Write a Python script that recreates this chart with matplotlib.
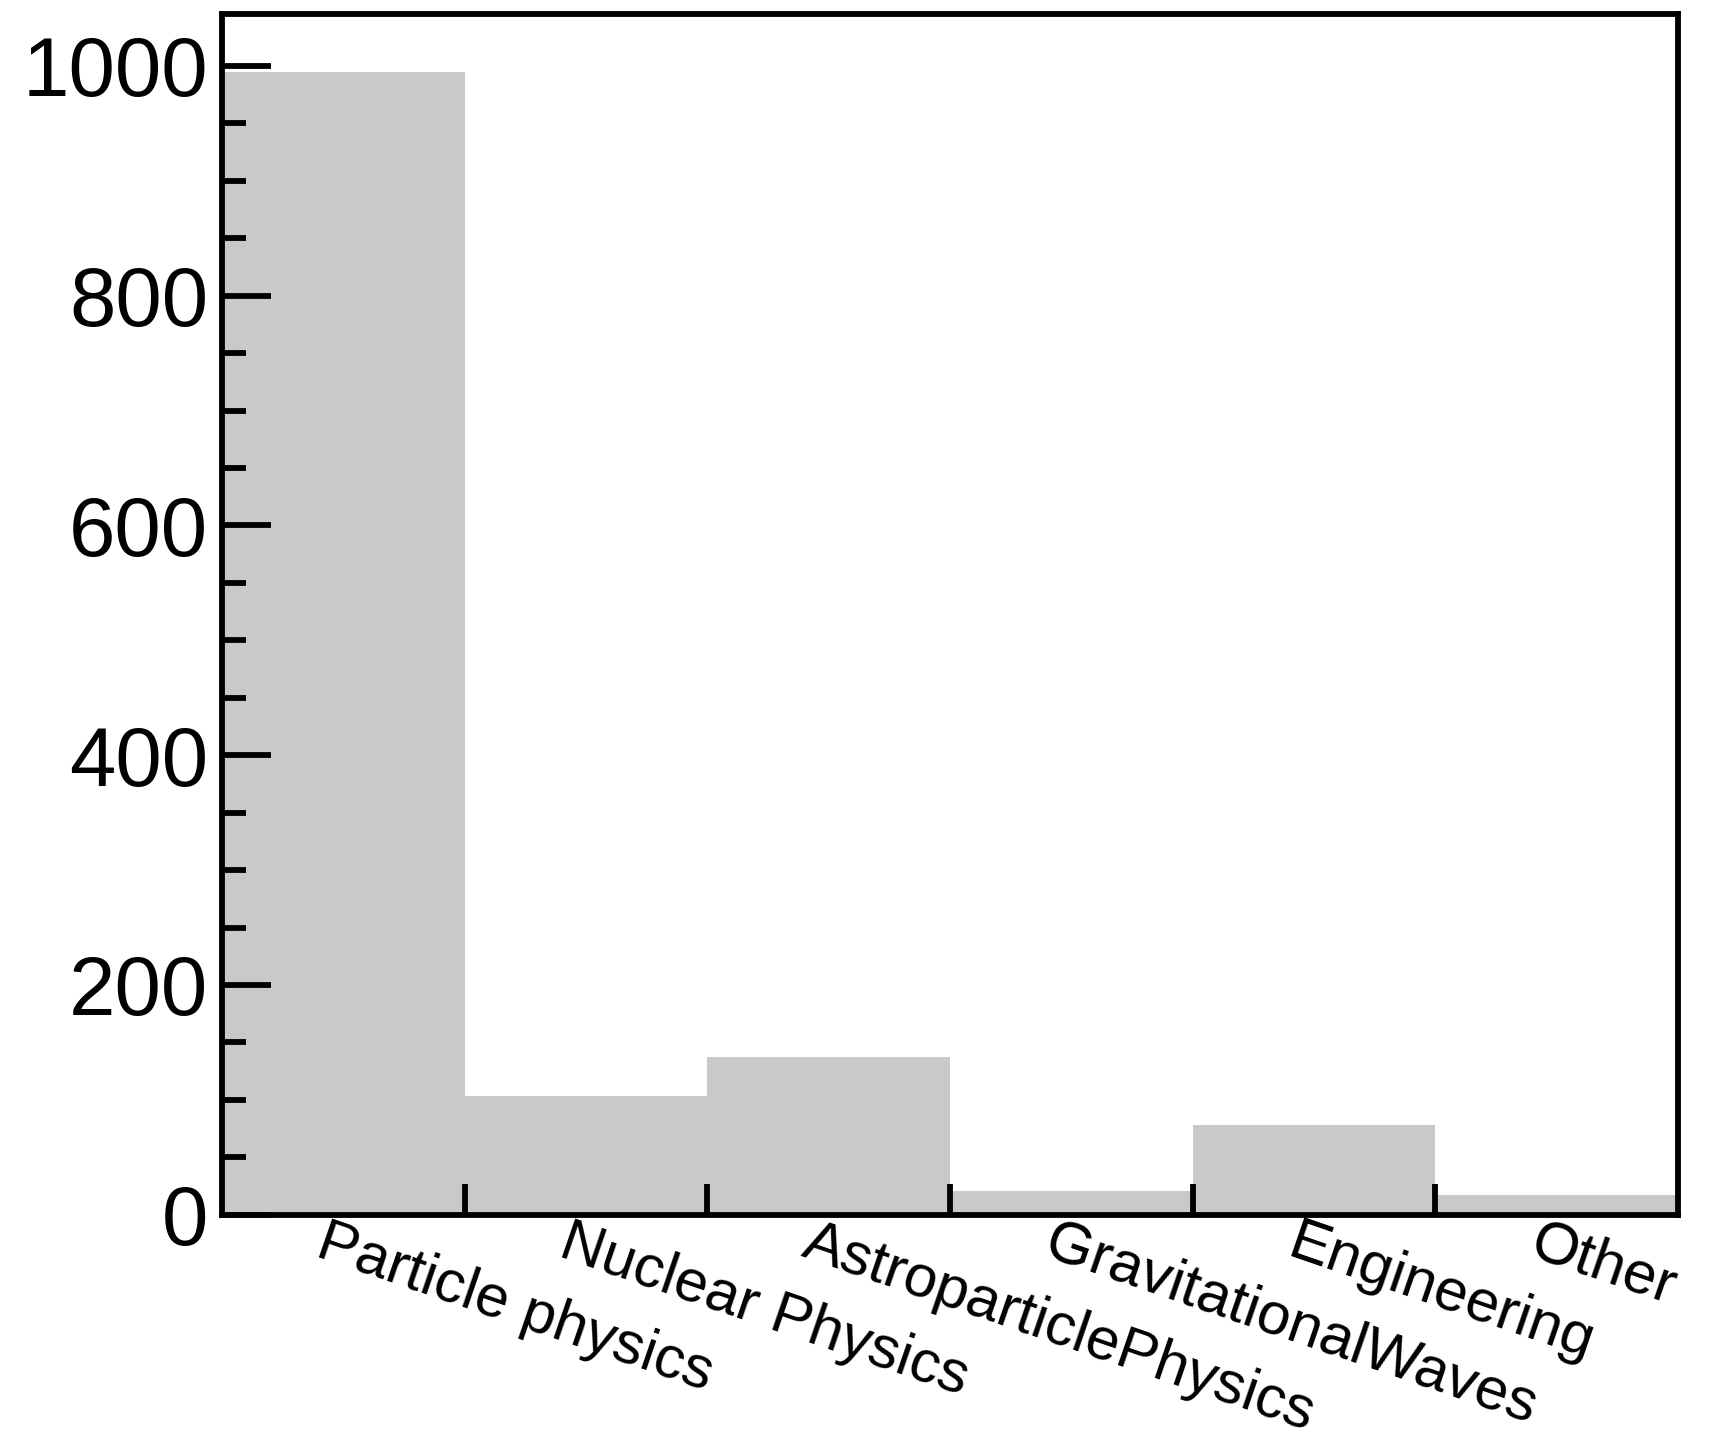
import matplotlib
matplotlib.use('Agg')
from matplotlib import pyplot as plt, transforms
import numpy as np

plt.rcParams['font.family'] = ['Liberation Sans', 'DejaVu Sans']

categories = ['Particle physics', 'Nuclear Physics', 'AstroparticlePhysics',
              'GravitationalWaves', 'Engineering', 'Other']
counts = [995, 103, 137, 21, 78, 17]

fig = plt.figure(figsize=(17.16, 14.41), dpi=100)
ax = fig.add_axes([0.1294, 0.157, 0.9778 - 0.1294, 0.990 - 0.157])

edges = np.arange(len(categories))
ax.bar(edges, counts, width=1.0, align='edge', color='#c9c9c9', linewidth=0)

ax.set_xlim(0, len(categories))
ax.set_ylim(0, 1.05 * max(counts))

for s in ax.spines.values():
    s.set_linewidth(4.2)
    s.set_zorder(5)

# y axis: major every 200, minor every 50, ticks inside, left only
ax.set_yticks(np.arange(0, 1001, 200))
ax.set_yticks(np.arange(0, 1001, 50), minor=True)
ax.tick_params(axis='y', which='major', direction='in', length=35, width=4.2,
               labelsize=60, pad=10, right=False)
ax.tick_params(axis='y', which='minor', direction='in', length=17, width=4.2,
               right=False)

# x axis: ticks at bin edges, labels at bin centres
ax.set_xticks(edges[1:])
ax.set_xticklabels([])
ax.tick_params(axis='x', which='major', direction='in', length=22, width=4.2,
               top=False)
centers = edges + 0.5
ax.set_xticks(centers, minor=True)
ax.set_xticklabels(categories, minor=True, rotation=-19, ha='left',
                   rotation_mode='anchor', fontsize=43)
ax.tick_params(axis='x', which='minor', length=0, pad=0, top=False)
shift = transforms.ScaledTranslation(-0.15, 0, fig.dpi_scale_trans)
for lab in ax.get_xticklabels(minor=True):
    lab.set_transform(lab.get_transform() + shift)

fig.savefig('out.png', dpi=100)
